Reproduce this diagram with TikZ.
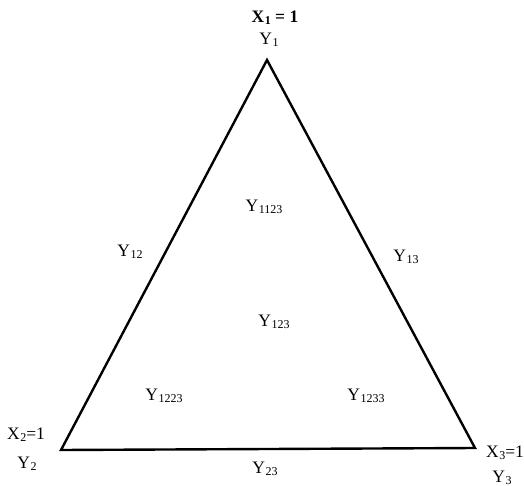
\documentclass[tikz,border=0pt]{standalone}
\usepackage{fontspec}
\setmainfont{Liberation Serif}
\newcommand{\sbs}[1]{\kern0.5pt\raisebox{-0.25ex}{\fontsize{12}{12}\selectfont #1}}
\begin{document}
\begin{tikzpicture}[x=1pt,y=-1pt,
  lbl/.style={inner sep=0pt,font=\fontsize{17.5}{17.5}\selectfont},
  edge/.style={line width=2.4pt,line join=miter}]
\useasboundingbox (0,0) rectangle (524,486);
\coordinate (A) at (267,60);
\coordinate (B) at (61,450);
\coordinate (C) at (475,448);
\draw[edge] (A) -- (B) -- (C) -- cycle;
\node[lbl,font=\fontsize{17.5}{17.5}\selectfont\bfseries] (x1) at (275,18) {X\sbs{1} = 1};
\node[lbl] (y1) at (269,40) {Y\sbs{1}};
\node[lbl] (y1123) at (264,207) {Y\sbs{1123}};
\node[lbl] (y12) at (130,252) {Y\sbs{12}};
\node[lbl] (y13) at (406,257) {Y\sbs{13}};
\node[lbl] (y123) at (274,322) {Y\sbs{123}};
\node[lbl] (y1223) at (164,396) {Y\sbs{1223}};
\node[lbl] (y1233) at (366,396) {Y\sbs{1233}};
\node[lbl] (x2) at (26,435) {X\sbs{2}=1};
\node[lbl] (y2) at (27,464) {Y\sbs{2}};
\node[lbl] (x3) at (505,453) {X\sbs{3}=1};
\node[lbl] (y3) at (502,478) {Y\sbs{3}};
\node[lbl] (y23) at (265,469) {Y\sbs{23}};
\end{tikzpicture}
\end{document}
